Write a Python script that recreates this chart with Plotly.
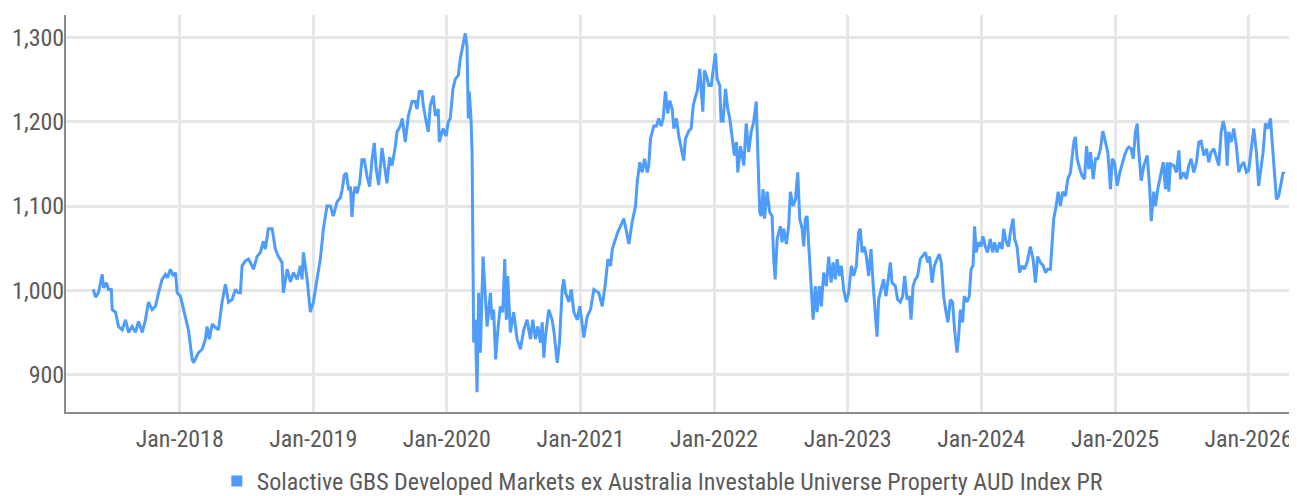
import pandas as pd
import plotly.graph_objects as go

# Time positions as fractional years
year_frac = [
2017.352,2017.369,2017.391,2017.419,2017.429,2017.451,2017.466,2017.487,2017.494,2017.519,
2017.541,2017.569,2017.594,2017.616,2017.644,2017.668,2017.691,2017.719,2017.743,2017.766,
2017.793,2017.818,2017.841,2017.868,2017.893,2017.908,2017.930,2017.951,2017.968,2017.981,
2018.005,2018.028,2018.050,2018.065,2018.093,2018.103,2018.140,2018.168,2018.192,2018.205,
2018.222,2018.243,2018.267,2018.290,2018.317,2018.342,2018.365,2018.392,2018.417,2018.439,
2018.454,2018.467,2018.492,2018.514,2018.529,2018.552,2018.579,2018.604,2018.626,2018.641,
2018.664,2018.692,2018.716,2018.739,2018.766,2018.776,2018.804,2018.829,2018.851,2018.879,
2018.903,2018.916,2018.926,2018.954,2018.978,2019.001,2019.028,2019.053,2019.076,2019.103,
2019.128,2019.150,2019.178,2019.203,2019.216,2019.233,2019.248,2019.265,2019.278,2019.290,
2019.302,2019.315,2019.328,2019.347,2019.365,2019.382,2019.403,2019.422,2019.440,2019.457,
2019.472,2019.490,2019.515,2019.532,2019.552,2019.572,
2019.590,2019.615,2019.627,2019.652,2019.667,2019.689,2019.712,2019.740,2019.764,2019.777,
2019.794,2019.814,2019.824,2019.852,2019.862,2019.876,2019.899,2019.914,2019.936,2019.944,
2019.972,2019.996,2020.011,2020.026,2020.046,2020.064,2020.086,2020.101,2020.123,2020.138,
2020.151,2020.161,2020.168,2020.181,2020.189,2020.196,2020.201,2020.213,2020.226,2020.238,
2020.251,2020.271,2020.288,2020.301,2020.326,2020.338,2020.350,2020.365,2020.380,2020.400,
2020.418,2020.433,2020.445,2020.455,2020.475,2020.500,2020.525,2020.550,
2020.575,2020.600,2020.625,2020.642,2020.662,2020.680,2020.700,2020.713,2020.725,2020.737,
2020.762,2020.787,2020.799,2020.825,2020.842,2020.862,2020.874,2020.887,2020.912,2020.930,
2020.949,2020.975,2020.994,2021.024,2021.049,2021.074,2021.099,2021.136,2021.162,2021.186,
2021.204,2021.224,2021.237,2021.261,
2021.278,2021.299,2021.323,2021.344,2021.361,2021.386,2021.411,2021.424,2021.443,2021.461,
2021.478,2021.499,2021.510,2021.523,2021.548,2021.568,2021.585,2021.603,2021.618,2021.635,
2021.653,2021.668,2021.686,2021.698,2021.718,2021.735,2021.753,2021.772,2021.785,2021.810,
2021.828,2021.843,2021.860,2021.873,2021.892,2021.903,2021.915,2021.927,2021.942,2021.960,
2021.978,2021.997,2022.010,2022.022,2022.042,2022.052,2022.067,2022.085,2022.102,2022.117,
2022.135,2022.152,2022.167,2022.177,2022.197,2022.222,2022.240,2022.259,2022.277,2022.296,
2022.315,2022.326,2022.341,
2022.352,2022.367,2022.377,2022.397,2022.416,2022.434,2022.446,2022.457,2022.472,2022.496,
2022.509,2022.521,2022.541,2022.558,2022.571,2022.591,2022.609,2022.626,2022.641,2022.659,
2022.671,2022.683,2022.696,2022.708,2022.726,2022.741,2022.758,2022.771,2022.788,2022.803,
2022.820,2022.840,2022.858,2022.876,2022.891,2022.908,2022.921,2022.940,2022.953,2022.970,
2022.990,2023.007,2023.028,2023.045,2023.065,2023.082,2023.095,2023.108,2023.125,2023.140,
2023.157,2023.175,2023.190,2023.207,2023.220,2023.232,2023.250,2023.269,2023.287,2023.302,
2023.320,2023.332,2023.357,2023.374,2023.394,2023.412,2023.427,2023.445,2023.462,2023.475,
2023.490,2023.507,2023.524,2023.544,2023.561,2023.582,2023.599,2023.614,2023.632,2023.649,
2023.669,2023.686,2023.701,2023.719,2023.737,2023.751,2023.769,2023.786,2023.801,2023.819,
2023.831,2023.844,2023.861,2023.873,2023.894,2023.911,2023.924,2023.939,2023.951,2023.963,
2023.981,2023.999,
2024.013,2024.031,2024.048,2024.068,2024.085,2024.100,2024.118,2024.138,2024.156,2024.168,
2024.188,2024.205,2024.218,2024.238,2024.250,2024.268,2024.287,2024.305,2024.323,2024.343,
2024.367,2024.388,2024.405,2024.422,2024.442,2024.463,2024.480,2024.497,2024.517,2024.530,
2024.542,2024.560,2024.575,2024.592,2024.609,2024.629,2024.647,2024.667,2024.680,2024.692,
2024.704,2024.717,2024.737,2024.754,2024.772,2024.787,2024.804,2024.817,2024.837,2024.854,
2024.871,2024.891,2024.909,2024.929,2024.946,2024.966,2024.979,2024.996,
2025.016,2025.036,2025.054,2025.071,2025.091,2025.103,2025.121,2025.136,2025.153,2025.166,
2025.178,2025.196,2025.216,2025.241,2025.260,2025.271,2025.290,2025.303,2025.320,2025.341,
2025.361,2025.378,2025.391,2025.403,2025.415,2025.440,2025.460,2025.478,2025.490,2025.515,
2025.535,2025.552,2025.570,2025.590,2025.610,2025.627,2025.645,2025.665,2025.685,2025.702,
2025.720,2025.740,2025.765,2025.777,2025.795,2025.810,2025.827,2025.840,2025.852,2025.870,
2025.889,2025.909,2025.927,2025.945,2025.964,2025.984,2026.001,2026.019,2026.039,2026.059,
2026.076,2026.089,2026.109,2026.126,2026.144,2026.164,2026.177,2026.194,2026.209,2026.226,
2026.244,2026.259,2026.269,
]

index_values = [
1001,992,997,1019,1003,1009,1001,1001,977,974,
957,953,965,950,957,950,963,950,965,986,
977,981,997,1013,1019,1015,1025,1017,1021,997,
993,977,962,953,918,914,926,930,942,957,
942,960,956,953,986,1007,986,989,1001,997,
997,1029,1035,1037,1033,1025,1040,1045,1058,1049,
1073,1073,1049,1040,1033,997,1025,1010,1021,1013,
1029,1013,1045,1013,974,986,1013,1037,1073,1100,
1100,1088,1105,1110,1119,1137,1139,1119,1123,1087,
1115,1123,1115,1127,1155,1155,1135,1123,1155,1175,
1143,1125,1169,1151,1127,1158,
1148,1171,1188,1195,1204,1176,1207,1224,1224,1215,
1236,1236,1219,1195,1188,1219,1231,1207,1215,1176,
1192,1183,1200,1204,1239,1251,1255,1275,1295,1305,
1290,1204,1236,1204,1164,1029,938,965,879,997,
926,1040,997,957,997,965,977,918,950,981,
974,1037,965,1017,950,974,942,930,
953,965,942,965,942,957,938,962,920,945,
977,965,953,914,938,1001,1013,997,986,1001,
974,965,981,944,969,977,1001,997,981,1009,
1037,1029,1049,1061,
1069,1076,1085,1069,1055,1081,1100,1129,1152,1140,
1156,1140,1148,1180,1195,1195,1204,1195,1204,1236,
1210,1225,1215,1192,1204,1183,1168,1154,1180,1189,
1192,1219,1230,1236,1263,1239,1212,1261,1255,1243,
1243,1267,1281,1251,1243,1201,1201,1239,1215,1204,
1183,1160,1176,1140,1171,1148,1198,1164,1188,1200,
1224,1176,1093,
1088,1120,1085,1117,1093,1088,1037,1013,1061,1076,
1057,1073,1055,1076,1117,1100,1108,1140,1085,1073,
1052,1085,1088,1052,1009,965,1005,974,1005,981,
1021,1005,1040,1009,1033,1013,1037,1017,1029,1001,
986,997,1029,1017,1029,1069,1073,1045,1052,1040,
1017,1049,1009,974,945,989,1001,1013,993,1009,
1033,1009,1005,989,986,993,1017,989,993,965,
1005,1013,1017,1037,1040,1045,1033,1040,1009,1029,
1037,1043,1033,993,974,962,989,986,953,926,
945,977,962,993,986,993,1025,1029,1076,1045,
1057,1052,
1064,1052,1045,1061,1045,1057,1045,1057,1049,1073,
1057,1052,1069,1085,1061,1052,1021,1029,1025,1033,
1052,1037,1009,1040,1033,1029,1021,1025,1025,1061,
1085,1100,1117,1100,1117,1112,1132,1140,1156,1176,
1182,1156,1144,1136,1132,1171,1144,1164,1132,1156,
1156,1168,1189,1176,1164,1120,1156,1152,
1124,1140,1152,1160,1168,1170,1168,1156,1188,1198,
1164,1130,1148,1160,1120,1082,1117,1100,1120,1136,
1152,1120,1152,1117,1150,1148,1140,1166,1132,1140,
1132,1148,1156,1140,1152,1176,1177,1160,1168,1152,
1164,1168,1156,1148,1188,1201,1188,1148,1188,1176,
1192,1171,1140,1148,1152,1140,1142,1164,1192,1164,
1124,1140,1164,1198,1192,1204,1176,1148,1108,1112,
1128,1140,1138,
]

series_name = "Solactive GBS Developed Markets ex Australia Investable Universe Property AUD Index PR"

y_ticks = [900, 1000, 1100, 1200, 1300]


def frac_to_date(t):
    y = int(t)
    start = pd.Timestamp(year=y, month=1, day=1)
    end = pd.Timestamp(year=y + 1, month=1, day=1)
    return start + (t - y) * (end - start)


dates = [frac_to_date(t) for t in year_frac]

LINE = "#4e9cfb"
FONT = "Liberation Sans Narrow, Arial Narrow, Roboto Condensed, Roboto, sans-serif"
TXT = "#5a5a5a"

fig = go.Figure()
fig.add_trace(go.Scatter(
    x=dates, y=index_values, mode="lines",
    line=dict(color=LINE, width=3),
    showlegend=False, name=series_name,
))
# legend entry with a square symbol
fig.add_trace(go.Scatter(
    x=[None], y=[None], mode="markers",
    marker=dict(symbol="square", size=11, color=LINE),
    name=series_name, showlegend=True,
))

# the page adds an 8px body margin, so the figure is sized to fit the window
fig.update_layout(
    width=1289, height=488,
    margin=dict(l=58, r=2, t=7, b=84, autoexpand=False),
    paper_bgcolor="white", plot_bgcolor="white",
    font=dict(family=FONT, size=24, color=TXT),
    legend=dict(
        orientation="h", xref="container", yref="paper",
        x=0.162, xanchor="left", y=-0.175, yanchor="middle",
        font=dict(family=FONT, size=24, color=TXT),
        bgcolor="rgba(0,0,0,0)",
    ),
    xaxis=dict(
        type="date",
        range=["2017-02-24", "2026-05-08"],
        tick0="2018-01-01", dtick="M12", tickformat="%b-%Y",
        showgrid=True, gridcolor="#e6e6e6", gridwidth=2.5,
        showline=True, linecolor="#8c8c8c", linewidth=2,
        ticks="", zeroline=False, automargin=False,
        ticklabelstandoff=4,
        tickfont=dict(family=FONT, size=24, color=TXT),
    ),
    yaxis=dict(
        range=[855.5, 1326.8],
        tickvals=y_ticks, tickformat=",d",
        showgrid=True, gridcolor="#e6e6e6", gridwidth=2.5,
        showline=True, linecolor="#8c8c8c", linewidth=2,
        ticks="", zeroline=False, automargin=False,
        ticklabelstandoff=-5,
        tickfont=dict(family=FONT, size=24, color=TXT),
    ),
)

fig.write_html("out.html")
